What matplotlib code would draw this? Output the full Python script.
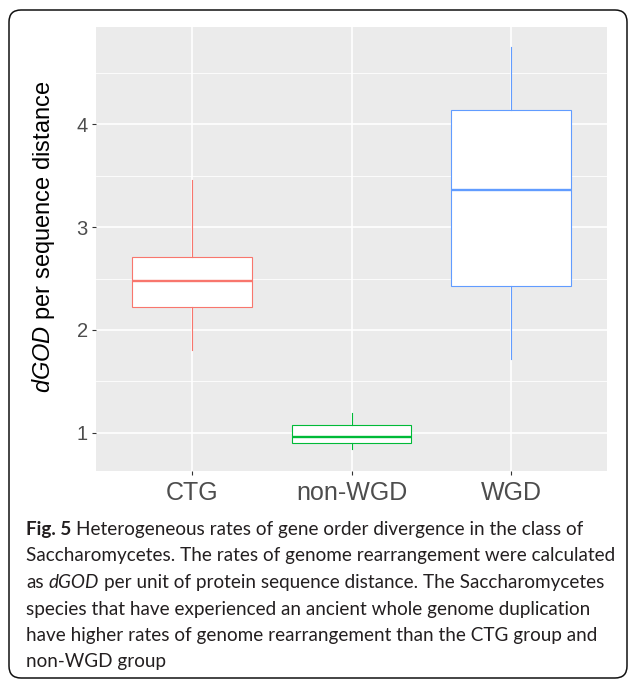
import matplotlib
matplotlib.use('Agg')
import matplotlib.pyplot as plt
from matplotlib.patches import FancyBboxPatch
from matplotlib.transforms import IdentityTransform

plt.rcParams['font.family'] = 'Liberation Sans'
plt.rcParams['mathtext.fontset'] = 'custom'
plt.rcParams['mathtext.it'] = 'Liberation Sans:italic'
plt.rcParams['mathtext.rm'] = 'Liberation Sans'

# box statistics
groups = ['CTG', 'non-WGD', 'WGD']
box_colors = ['#F8766D', '#00BA38', '#619CFF']
whisker_low = [1.80, 0.84, 1.72]
q1 = [2.22, 0.903, 2.425]
median = [2.48, 0.955, 3.362]
q3 = [2.712, 1.072, 4.142]
whisker_high = [3.456, 1.19, 4.75]

y_ticks = [1, 2, 3, 4]
y_minor = [1.5, 2.5, 3.5, 4.5]

# caption: list of lines, each a list of (text, weight, style)
caption_lines = [
    [('Fig. 5', 'bold', 'normal'), ('Heterogeneous rates of gene order divergence in the class of', 'normal', 'normal')],
    [('Saccharomycetes. The rates of genome rearrangement were calculated', 'normal', 'normal')],
    [('as', 'normal', 'normal'), ('dGOD', 'normal', 'italic'),
     ('per unit of protein sequence distance. The Saccharomycetes', 'normal', 'normal')],
    [('species that have experienced an ancient whole genome duplication', 'normal', 'normal')],
    [('have higher rates of genome rearrangement than the CTG group and', 'normal', 'normal')],
    [('non-WGD group', 'normal', 'normal')],
]

W, H = 630, 681
fig = plt.figure(figsize=(W / 100, H / 100), dpi=100)
ax = fig.add_axes([96 / W, 1 - 471 / H, (607 - 96) / W, (471 - 26.7) / H])
ax.set_facecolor('#EBEBEB')

stats = []
for i in range(len(groups)):
    stats.append({'label': groups[i], 'whislo': whisker_low[i], 'q1': q1[i],
                  'med': median[i], 'q3': q3[i], 'whishi': whisker_high[i]})

bp = ax.bxp(stats, positions=[1, 2, 3], widths=0.75, patch_artist=True,
            showcaps=False, showfliers=False, zorder=3)
for i, c in enumerate(box_colors):
    bp['boxes'][i].set(facecolor='white', edgecolor=c, linewidth=0.8)
    bp['medians'][i].set(color=c, linewidth=1.7)
    bp['whiskers'][2 * i].set(color=c, linewidth=0.8)
    bp['whiskers'][2 * i + 1].set(color=c, linewidth=0.8)

ax.set_xlim(0.4, 3.6)
ax.set_ylim(0.627, 4.951)
ax.set_yticks(y_ticks)
ax.set_yticks(y_minor, minor=True)
ax.set_xticks([1, 2, 3])
ax.set_xticklabels(groups)
ax.grid(True, which='major', color='white', linewidth=1.2, zorder=0)
ax.grid(True, which='minor', axis='y', color='white', linewidth=0.6, zorder=0)
ax.set_axisbelow(True)
for s in ax.spines.values():
    s.set_visible(False)
ax.tick_params(axis='y', which='major', labelsize=14.5, labelcolor='#4D4D4D',
               color='#333333', length=3, width=0.8, pad=3)
ax.tick_params(axis='x', which='major', labelsize=18, labelcolor='#4D4D4D',
               color='#333333', length=3, width=0.8, pad=4)
ax.tick_params(which='minor', length=0)

ax.set_ylabel(r'$\mathit{dGOD}$ per sequence distance', fontsize=17, color='black')
ax.yaxis.set_label_coords(-0.076, 0.526)

# rounded frame around figure + caption
frame = FancyBboxPatch((9, H - 678), 618, 668, boxstyle='round,pad=0,rounding_size=12',
                       facecolor='none', edgecolor='#111111', linewidth=1.1,
                       transform=IdentityTransform())
fig.patches.append(frame)

# caption text, fitted so the widest line spans ~589 px
renderer = fig.canvas.get_renderer()
cap_font = 'Lato'
probe = fig.text(0, 0, caption_lines[1][0][0], fontsize=14, family=cap_font)
fs = 14 * 589 / probe.get_window_extent(renderer).width
probe.remove()

sp1 = fig.text(0, 0, 'a a', fontsize=fs, family=cap_font)
sp2 = fig.text(0, 0, 'aa', fontsize=fs, family=cap_font)
space_w = sp1.get_window_extent(renderer).width - sp2.get_window_extent(renderer).width
sp1.remove()
sp2.remove()

baselines = [535, 561.5, 588, 614.5, 641, 667.5]
for line, yb in zip(caption_lines, baselines):
    x = 26
    for txt, weight, style in line:
        t = fig.text(x / W, 1 - yb / H, txt, fontsize=fs, family=cap_font,
                     fontweight=weight, fontstyle=style, color='#231F20',
                     va='baseline', ha='left')
        x += t.get_window_extent(renderer).width + space_w

fig.savefig('out.png', dpi=100)
